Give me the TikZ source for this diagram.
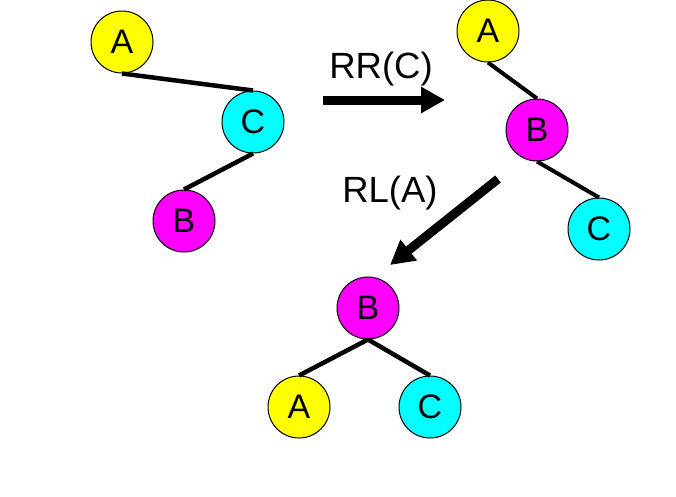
\documentclass[tikz,border=0pt]{standalone}
\usepackage{fontspec}
\setmainfont{Liberation Sans}
\usetikzlibrary{arrows.meta}
\definecolor{yel}{RGB}{255,255,0}
\definecolor{cya}{RGB}{0,255,255}
\definecolor{mag}{RGB}{255,0,255}
\tikzset{
  vtx/.style={circle,draw=black,line width=1pt,minimum size=62pt,inner sep=0pt,font=\fontsize{34}{34}\selectfont},
  ya/.style={vtx,fill=yel},
  cy/.style={vtx,fill=cya},
  mg/.style={vtx,fill=mag},
  edge/.style={line width=4.5pt},
  bigarrow/.style={line width=9pt,-{Triangle[length=24pt,width=25pt]}},
  lbl/.style={font=\fontsize{36.5}{36.5}\selectfont,inner sep=0pt,anchor=base}
}
\begin{document}
\begin{tikzpicture}[x=1pt,y=-1pt]
\useasboundingbox (0,0) rectangle (676,496);
% tree 1
\node[ya] (a1) at (122,42) {A};
\node[cy] (c1) at (253,122) {C};
\node[mg] (b1) at (184,221) {B};
\draw[edge] (a1.south) -- (c1.north);
\draw[edge] (c1.south) -- (b1.north);
% tree 2
\node[ya] (a2) at (488,31) {A};
\node[mg] (b2) at (537,130) {B};
\node[cy] (c2) at (599,229) {C};
\draw[edge,line width=4pt] (a2.south) -- (b2.north);
\draw[edge,line width=4pt] (b2.south) -- (c2.north);
% tree 3
\node[mg] (b3) at (368,308) {B};
\node[ya] (a3) at (299,407) {A};
\node[cy] (c3) at (430,407) {C};
\draw[edge] (b3.south) -- (a3.north);
\draw[edge] (b3.south) -- (c3.north);
% arrows
\coordinate (r1s) at (323,100);
\coordinate (r1e) at (445,100);
\draw[bigarrow] (r1s) -- (r1e);
\node[lbl] (rrc) at (381,78) {RR(C)};
\coordinate (r2s) at (498,179);
\coordinate (r2e) at (390,265);
\draw[bigarrow] (r2s) -- (r2e);
\node[lbl] (rla) at (390,202) {RL(A)};
\end{tikzpicture}
\end{document}
